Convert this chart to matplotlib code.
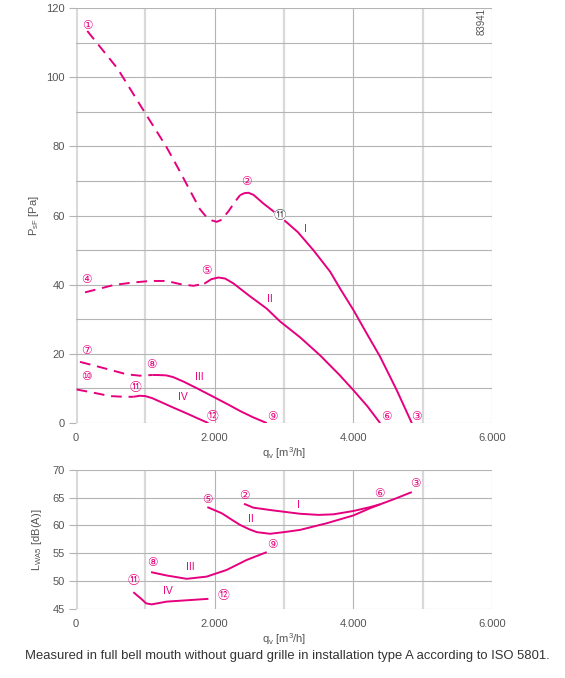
import numpy as np
import matplotlib
matplotlib.use("Agg")
import matplotlib.pyplot as plt
from matplotlib.ticker import FuncFormatter, MultipleLocator

plt.rcParams["font.family"] = ["Liberation Sans", "Noto Sans CJK JP", "DejaVu Sans"]

PINK = "#e6007e"
GRID_DARK = "#b4b4b4"
GRID_LIGHT = "#d9d9d9"
TXT = "#555555"
MARK_FONT = ["DejaVu Sans", "Noto Sans CJK JP"]

# ---- pressure curves (q_v in m3/h, p in Pa) ----
p1_dash_q = [163, 600, 971, 1300, 1500, 1650, 1789, 1880, 1960, 2029, 2100, 2200, 2300, 2365]
p1_dash_p = [113.4, 102.5, 90.5, 80.0, 72.7, 67.0, 61.8, 59.6, 58.6, 58.2, 58.8, 61.3, 64.2, 65.9]
p1_q = [2365, 2430, 2486, 2560, 2702, 2933, 3200, 3423, 3664, 3808, 4000, 4192, 4385, 4625, 4842]
p1_p = [65.9, 66.5, 66.6, 66.0, 63.5, 59.9, 55.2, 50.0, 43.8, 38.9, 32.7, 25.9, 19.2, 9.5, 0.0]

p2_dash_q = [130, 539, 800, 1067, 1308, 1500, 1692, 1850]
p2_dash_p = [37.8, 39.9, 40.6, 41.1, 41.1, 40.2, 39.7, 40.3]
p2_q = [1850, 1950, 2053, 2150, 2269, 2500, 2750, 2942, 3231, 3519, 3800, 4000, 4200, 4385]
p2_p = [40.3, 41.6, 42.1, 41.8, 40.4, 36.8, 33.1, 29.4, 24.8, 19.6, 13.9, 9.5, 4.9, 0.0]

p3_dash_q = [58, 400, 731, 923, 1100]
p3_dash_p = [17.7, 15.9, 14.1, 13.7, 13.9]
p3_q = [1100, 1163, 1300, 1400, 1550, 1750, 1981, 2200, 2365, 2550, 2750]
p3_p = [13.9, 13.9, 13.8, 13.3, 12.0, 10.0, 7.6, 5.3, 3.5, 1.7, 0.0]

p4_dash_q = [10, 250, 490, 700, 826]
p4_dash_p = [9.7, 8.8, 7.8, 7.6, 7.6]
p4_q = [826, 920, 1000, 1100, 1212, 1400, 1596, 1750, 1909]
p4_p = [7.6, 7.9, 7.8, 7.2, 6.2, 4.5, 2.8, 1.4, 0.0]

# ---- sound power curves (q_v in m3/h, L_WA in dB(A)) ----
s1_q = [2423, 2557, 2846, 3231, 3500, 3712, 4000, 4240, 4385, 4600, 4842]
s1_l = [63.9, 63.2, 62.7, 62.1, 61.9, 62.0, 62.6, 63.3, 63.8, 64.8, 66.0]
s2_q = [1894, 2101, 2250, 2365, 2500, 2606, 2798, 3000, 3231, 3615, 4000, 4240, 4385]
s2_l = [63.3, 62.2, 61.0, 60.1, 59.3, 58.8, 58.5, 58.8, 59.2, 60.4, 61.8, 63.1, 63.8]
s3_q = [1082, 1308, 1596, 1885, 2173, 2462, 2750]
s3_l = [51.6, 51.0, 50.4, 50.8, 52.0, 53.8, 55.2]
s4_q = [827, 950, 1010, 1091, 1308, 1548, 1909]
s4_l = [48.0, 46.7, 46.0, 45.8, 46.3, 46.5, 46.8]

# ---- annotations ----
top_marks = ["①", "②", "④", "⑤", "⑦", "⑧", "⑩", "⑪", "⑫", "⑨", "⑥", "③"]
top_mark_q = [163, 2452, 144, 1885, 144, 1082, 144, 851, 1966, 2832, 4471, 4914]
top_mark_p = [115, 69.8, 41.6, 44.0, 21.1, 16.8, 13.4, 10.3, 2.0, 2.0, 2.0, 2.0]
top_roman = ["I", "II", "III", "IV"]
top_roman_q = [3303, 2798, 1774, 1539]
top_roman_p = [56.1, 36.0, 13.4, 7.6]
op_q, op_p = 2933, 59.9

bot_marks = ["⑤", "②", "⑥", "③", "⑨", "⑧", "⑪", "⑫"]
bot_mark_q = [1899, 2433, 4375, 4890, 2832, 1101, 827, 2125]
bot_mark_l = [64.6, 65.4, 65.7, 67.5, 56.5, 53.4, 50.1, 47.4]
bot_roman = ["I", "II", "III", "IV"]
bot_roman_q = [3202, 2524, 1654, 1322]
bot_roman_l = [63.6, 61.2, 52.6, 48.2]


def thousands(v, _):
    return f"{int(v):,}".replace(",", ".")


def style_axes(ax, ymin, ymax, ystep, ylab_step):
    ax.set_xlim(0, 6000)
    ax.set_ylim(ymin, ymax)
    for s in ax.spines.values():
        s.set_visible(False)
    for q in range(0, 6001, 1000):
        if q == 0:
            ax.axvline(q, color=GRID_LIGHT, lw=2.2, zorder=0)
        elif q % 2000 == 0:
            ax.axvline(q, color=GRID_DARK, lw=0.8, zorder=0)
        else:
            ax.axvline(q, color=GRID_LIGHT, lw=1.6, zorder=0)
    for y in np.arange(ymin, ymax + 0.01, ystep):
        ax.axhline(y, color=GRID_DARK, lw=0.8, zorder=0)
    ax.xaxis.set_major_locator(MultipleLocator(2000))
    ax.xaxis.set_major_formatter(FuncFormatter(thousands))
    ax.yaxis.set_major_locator(MultipleLocator(ylab_step))
    ax.tick_params(axis="x", length=0, pad=7, labelsize=8, labelcolor=TXT)
    ax.tick_params(axis="y", length=5, width=0.8, color=GRID_DARK, pad=3,
                   labelsize=8, labelcolor=TXT)
    ax.set_xlabel("q$_{\\mathregular{v}}$ [m$^{\\mathregular{3}}$/h]", fontsize=8,
                  color=TXT, labelpad=2)


fig = plt.figure(figsize=(5.65, 6.78), dpi=100)
ax1 = fig.add_axes([0.1345, 0.376, 0.7365, 0.612])
ax2 = fig.add_axes([0.1345, 0.102, 0.7365, 0.205])

style_axes(ax1, 0, 120, 10, 20)
style_axes(ax2, 45, 70, 5, 5)

kw = dict(color=PINK, lw=1.4, solid_capstyle="butt", zorder=3)
dash = dict(kw, ls=(0, (5.5, 3.5)))
for dq, dp, q, p in [(p1_dash_q, p1_dash_p, p1_q, p1_p),
                     (p2_dash_q, p2_dash_p, p2_q, p2_p),
                     (p3_dash_q, p3_dash_p, p3_q, p3_p),
                     (p4_dash_q, p4_dash_p, p4_q, p4_p)]:
    ax1.plot(dq, dp, **dash)
    ax1.plot(q, p, **kw)

for m, q, p in zip(top_marks, top_mark_q, top_mark_p):
    ax1.text(q, p, m, color=PINK, fontsize=8.5, ha="center", va="center",
             family=MARK_FONT)
for r, q, p in zip(top_roman, top_roman_q, top_roman_p):
    ax1.text(q, p, r, color=PINK, fontsize=7.5, ha="center", va="center")
ax1.text(op_q, op_p, "⑪", color="#555555", fontsize=9, ha="center", va="center",
         zorder=5, family=MARK_FONT,
         bbox=dict(boxstyle="circle,pad=0.0", fc="white", ec="none"))
ax1.text(5850, 116, "83941", rotation=90, fontsize=7, color=TXT,
         ha="center", va="center")
ax1.set_ylabel("P$_{\\mathregular{sF}}$ [Pa]", fontsize=8, color=TXT, labelpad=4)

for q, l in [(s1_q, s1_l), (s2_q, s2_l), (s3_q, s3_l), (s4_q, s4_l)]:
    ax2.plot(q, l, **kw)
for m, q, l in zip(bot_marks, bot_mark_q, bot_mark_l):
    ax2.text(q, l, m, color=PINK, fontsize=8.5, ha="center", va="center",
             family=MARK_FONT)
for r, q, l in zip(bot_roman, bot_roman_q, bot_roman_l):
    ax2.text(q, l, r, color=PINK, fontsize=7.5, ha="center", va="center")
ax2.set_ylabel("L$_{\\mathregular{WA5}}$ [dB(A)]", fontsize=8, color=TXT, labelpad=6)

fig.text(0.509, 0.033, "Measured in full bell mouth without guard grille in "
         "installation type A according to ISO 5801.",
         fontsize=9.4, color="#333333", ha="center", va="center")

fig.savefig("out.png", dpi=100)
plt.close(fig)
